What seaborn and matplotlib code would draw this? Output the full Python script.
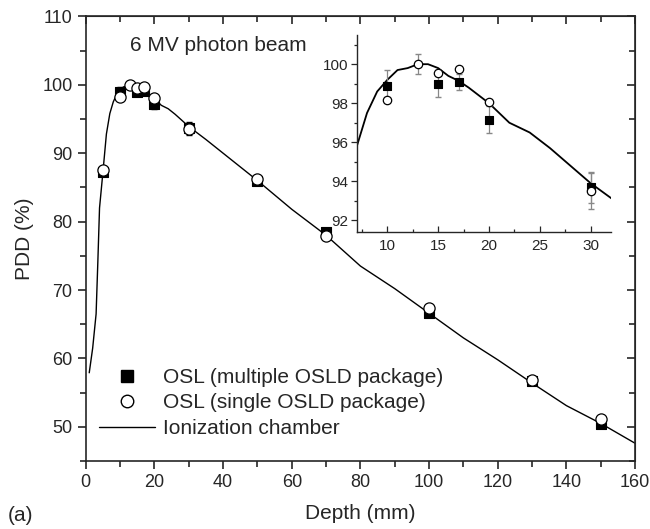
import numpy as np
import pandas as pd
import seaborn as sns
import matplotlib.pyplot as plt
from matplotlib.lines import Line2D
from matplotlib.ticker import MultipleLocator

# ionization chamber depth dose curve
ic_depth = [1, 2, 3, 3.5, 4, 5, 6, 7, 8, 9, 10, 11, 12, 13, 14, 15, 16, 17, 18, 20,
            22, 24, 26, 28, 30, 35, 40, 50, 60, 70, 80, 90, 100, 110, 120, 130, 140, 150, 160]
ic_pdd = [57.9, 61.5, 66.5, 74.0, 82.0, 87.3, 92.8, 95.8, 97.5, 98.6, 99.2, 99.7, 99.8, 100.0, 100.0,
          99.8, 99.4, 99.15, 98.8, 98.0, 97.0, 96.5, 95.7, 94.8, 93.9, 92.0, 90.0, 86.0, 81.8, 78.0,
          73.5, 70.2, 66.6, 63.0, 59.8, 56.4, 53.1, 50.5, 47.6]

# OSL, multiple OSLD package (filled squares)
multi_depth = [5, 10, 15, 17, 20, 30, 50, 70, 100, 130, 150]
multi_pdd = [87.2, 98.9, 99.0, 99.1, 97.15, 93.7, 86.0, 78.5, 66.6, 56.7, 50.4]
multi_err = [0.5, 0.8, 0.7, 0.4, 0.7, 0.8, 0.7, 0.5, 0.5, 0.6, 0.5]

# OSL, single OSLD package (open circles)
single_depth = [5, 10, 13, 15, 17, 20, 30, 50, 70, 100, 130, 150]
single_pdd = [87.6, 98.15, 100.0, 99.55, 99.75, 98.05, 93.5, 86.2, 77.9, 67.3, 56.9, 51.1]
single_err = [0, 0, 0.5, 0, 0, 0, 0.9, 0, 0, 0, 0, 0]

sns.set_style("ticks")
plt.rcParams["font.family"] = ["Liberation Sans", "DejaVu Sans"]

fig = plt.figure(figsize=(6.5, 5.29), dpi=100)
ax = fig.add_axes([0.132, 0.1285, 0.845, 0.8405])


def draw(ax, ms, lw, ecolor):
    sns.lineplot(x=ic_depth, y=ic_pdd, sort=False, color="black", lw=lw, ax=ax)
    ax.errorbar(multi_depth, multi_pdd, yerr=multi_err, fmt="none", ecolor=ecolor,
                elinewidth=0.9, capsize=2, zorder=3)
    ax.errorbar(single_depth, single_pdd, yerr=single_err, fmt="none", ecolor=ecolor,
                elinewidth=0.9, capsize=2, zorder=3)
    sns.scatterplot(x=multi_depth, y=multi_pdd, marker="s", s=ms, color="black",
                    edgecolor="black", linewidth=0.8, ax=ax, zorder=4)
    sns.scatterplot(x=single_depth, y=single_pdd, marker="o", s=ms * 1.3, color="white",
                    edgecolor="black", linewidth=0.9, ax=ax, zorder=5)


draw(ax, 50, 1.0, "black")
ax.set_xlim(0, 160)
ax.set_ylim(45, 110)
ax.xaxis.set_major_locator(MultipleLocator(20))
ax.xaxis.set_minor_locator(MultipleLocator(10))
ax.set_yticks([50, 60, 70, 80, 90, 100, 110])
ax.set_yticks([45, 55, 65, 75, 85, 95, 105], minor=True)
ax.tick_params(which="major", direction="out", length=6, width=1.2, labelsize=13)
ax.tick_params(which="minor", direction="out", length=4, width=1.2)
for s in ax.spines.values():
    s.set_linewidth(1.2)

top = ax.secondary_xaxis("top")
top.xaxis.set_major_locator(MultipleLocator(20))
top.xaxis.set_minor_locator(MultipleLocator(10))
top.tick_params(which="both", direction="in", labeltop=False, width=1.2)
top.tick_params(which="major", length=6)
top.tick_params(which="minor", length=4)
right = ax.secondary_yaxis("right")
right.set_yticks([50, 60, 70, 80, 90, 100, 110])
right.set_yticks([45, 55, 65, 75, 85, 95, 105], minor=True)
right.tick_params(which="both", direction="in", labelright=False, width=1.2)
right.tick_params(which="major", length=6)
right.tick_params(which="minor", length=4)

ax.set_xlabel("Depth (mm)", fontsize=15, labelpad=9)
ax.set_ylabel("PDD (%)", fontsize=15, labelpad=6)
ax.text(13, 105.8, "6 MV photon beam", fontsize=15, va="center")
fig.text(0.012, 0.015, "(a)", fontsize=15)

handles = [
    Line2D([], [], marker="s", color="black", ls="none", markersize=8),
    Line2D([], [], marker="o", markerfacecolor="white", markeredgecolor="black", ls="none", markersize=9),
    Line2D([], [], color="black", lw=1),
]
labels = ["OSL (multiple OSLD package)", "OSL (single OSLD package)", "Ionization chamber"]
ax.legend(handles, labels, loc="lower left", bbox_to_anchor=(0.005, 0.028), frameon=False,
          fontsize=15, handlelength=2.7, handletextpad=0.35, labelspacing=0.32, borderpad=0)

# inset zoom on build-up region
ins = fig.add_axes([0.549, 0.5614, 0.391, 0.3726])
draw(ins, 28, 1.3, "#888888")
ins.set_xlim(7, 32)
ins.set_ylim(91.4, 101.5)
ins.xaxis.set_major_locator(MultipleLocator(5))
ins.xaxis.set_minor_locator(MultipleLocator(2.5))
ins.yaxis.set_major_locator(MultipleLocator(2))
ins.yaxis.set_minor_locator(MultipleLocator(1))
ins.tick_params(axis="x", which="both", direction="in", labelsize=11, pad=5)
ins.tick_params(axis="y", which="both", direction="out", labelsize=11, pad=2)
ins.tick_params(which="major", length=4, width=0.9)
ins.tick_params(which="minor", length=2.5, width=0.9)
sns.despine(ax=ins)
for s in ins.spines.values():
    s.set_linewidth(1.0)

fig.savefig("out.png", dpi=100)
